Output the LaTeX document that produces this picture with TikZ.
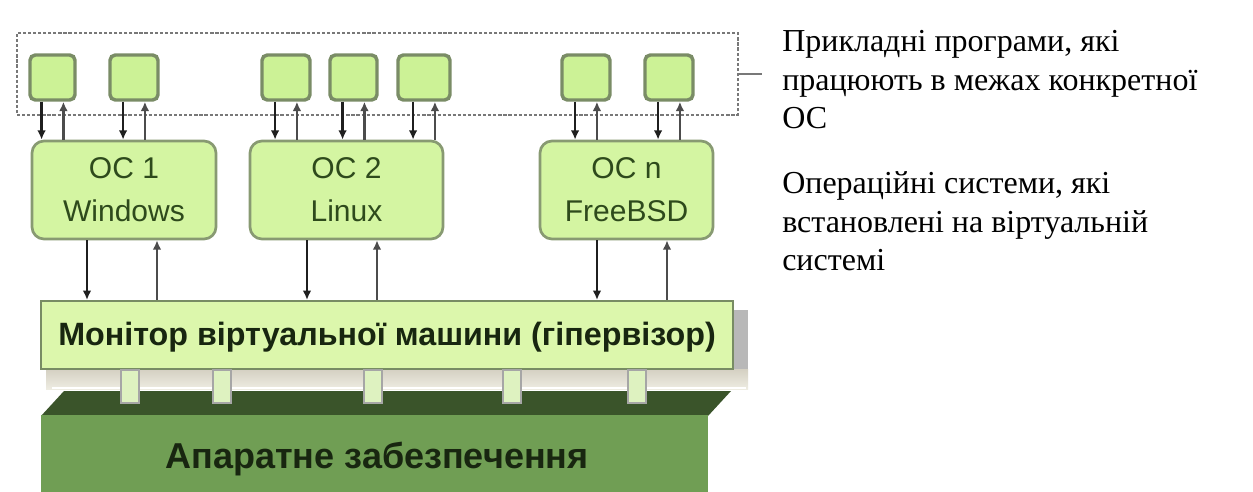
\documentclass[tikz,border=0pt]{standalone}
\usepackage{fontspec}
\setmainfont{Liberation Serif}
\newfontfamily\diagfont{Liberation Sans}
\usetikzlibrary{fit,arrows.meta}
\definecolor{appfill}{RGB}{204,242,150}
\definecolor{appborder}{RGB}{122,140,102}
\definecolor{osfill}{RGB}{212,245,162}
\definecolor{osborder}{RGB}{136,154,114}
\definecolor{ostext}{RGB}{46,74,28}
\definecolor{monfill}{RGB}{220,247,172}
\definecolor{monborder}{RGB}{120,140,100}
\definecolor{montext}{RGB}{24,38,16}
\definecolor{hwfront}{RGB}{112,158,84}
\definecolor{hwtop}{RGB}{58,84,42}
\definecolor{pegfill}{RGB}{222,242,192}
\definecolor{dashgray}{RGB}{120,120,120}
\definecolor{bandtop}{RGB}{212,208,194}
\definecolor{bandbot}{RGB}{238,236,226}
\begin{document}
\begin{tikzpicture}[x=0.75pt,y=-0.75pt,
  appbox/.style={draw=appborder,line width=2.6pt,fill=appfill,rounded corners=4pt,inner sep=0pt},
  osbox/.style={draw=osborder,line width=2pt,fill=osfill,rounded corners=9pt,inner sep=0pt},
  monbox/.style={draw=monborder,line width=1.6pt,fill=monfill,inner sep=0pt},
  pegbox/.style={draw=black!35,line width=0.8pt,fill=pegfill,inner sep=0pt},
  dnarrow/.style={draw=black!88,line width=2pt,-{Latex[length=7pt,width=6.5pt]}},
  uparrow/.style={draw=black!70,line width=2pt,-{Latex[length=7pt,width=6.5pt]}},
  ostxt/.style={font=\diagfont\fontsize{22.5}{32}\selectfont,text=ostext,align=center,inner sep=0pt},
  sidetxt/.style={font=\fontsize{24}{29}\selectfont,anchor=base west,inner sep=0pt}
]
\useasboundingbox (0,0) rectangle (1253,492);
\fill[white] (0,0) rectangle (1253,492);

% group of applications
\node[draw=dashgray,line width=2.2pt,dash pattern=on 2.4pt off 1.4pt,inner sep=0pt,fit={(17,33)(738,115)}] (grp) {};
\coordinate (grpend) at (762,74);
\draw[dashgray,line width=2pt] (grp.east) -- (grpend);

% applications
\foreach \n/\a/\b in {1/30/75,2/110/158,3/262/310,4/330/377,5/398/450,6/562/610,7/645/693}
  \node[appbox,fit={(\a,55)(\b,100)}] (app\n) {};

% operating systems
\node[osbox,fit={(32,141)(216,239)}] (os1) {};
\node[osbox,fit={(250,141)(443,239)}] (os2) {};
\node[osbox,fit={(540,141)(713,239)}] (os3) {};
\node[ostxt] (os1t) at (os1.center) {ОС 1\\Windows};
\node[ostxt] (os2t) at (os2.center) {ОС 2\\Linux};
\node[ostxt] (os3t) at (os3.center) {ОС n\\FreeBSD};

% app <-> OS connectors
\foreach \n/\o in {1/os1,2/os1,3/os2,4/os2,5/os2,6/os3,7/os3}{
  \draw[dnarrow] ([xshift=-8.2pt]app\n.south) -- ([xshift=-8.2pt]app\n.south |- \o.north);
  \draw[uparrow] ([xshift=8.2pt]app\n.south |- \o.north) -- ([xshift=8.2pt]app\n.south);
}

% shadow and band under the monitor
\fill[black!28] (733,310) rectangle (748,388);
\shade[top color=bandtop,bottom color=bandbot] (46,369) rectangle (748,389);
\draw[white,line width=1pt] (52,388) -- (746,388);

% hardware
\fill[hwtop] (41,416) -- (708,416) -- (731,391) -- (64,391) -- cycle;
\node[fill=hwfront,inner sep=0pt,fit={(41,415)(708,492)}] (hw) {};
\node[font=\diagfont\bfseries\fontsize{27}{30}\selectfont,text=montext,inner sep=0pt] (hwt) at (377,459) {Апаратне забезпечення};

% monitor
\node[monbox,fit={(41,301)(733,369)}] (mon) {};
\node[font=\diagfont\bfseries\fontsize{24.2}{28}\selectfont,text=montext,inner sep=0pt] (mont) at (387,337) {Монітор віртуальної машини (гіпервізор)};

% pegs
\foreach \n/\c in {1/130,2/222,3/373,4/512,5/637}
  \node[pegbox,fit={(\c-9,370)(\c+9,403)}] (peg\n) {};

% OS <-> monitor connectors
\foreach \o/\l/\r in {os1/87/157,os2/307/377,os3/597/667}{
  \coordinate (l\o) at (\l,270);
  \coordinate (r\o) at (\r,270);
  \draw[dnarrow] (\o.south -| l\o) -- (mon.north -| l\o);
  \draw[uparrow] (mon.north -| r\o) -- (\o.south -| r\o);
}

% side texts
\node[sidetxt] (s1) at (782,52) {Прикладні програми, які};
\node[sidetxt] (s2) at (782,90) {працюють в межах конкретної};
\node[sidetxt] (s3) at (782,128) {ОС};
\node[sidetxt] (s4) at (782,193) {Операційні системи, які};
\node[sidetxt] (s5) at (782,232) {встановлені на віртуальній};
\node[sidetxt] (s6) at (782,270) {системі};
\end{tikzpicture}
\end{document}
